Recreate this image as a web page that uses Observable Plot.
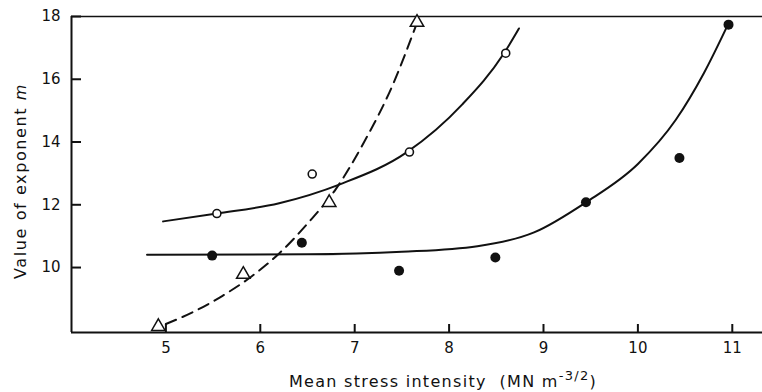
<!DOCTYPE html>
<html>
<head>
<meta charset="utf-8">
<script src="https://cdn.jsdelivr.net/npm/d3@7"></script>
<script src="https://cdn.jsdelivr.net/npm/@observablehq/plot@0.6"></script>
<style>
  html, body { margin: 0; padding: 0; background: #fff; }
</style>
</head>
<body>
<div id="chart"></div>
<script>
// Measured points: open circles, filled circles and triangles
const openX = [5.54, 6.55, 7.58, 8.6];
const openY = [11.72, 12.98, 13.68, 16.83];
const filledX = [5.49, 6.44, 7.47, 8.49, 9.45, 10.44, 10.96];
const filledY = [10.38, 10.79, 9.9, 10.32, 12.08, 13.49, 17.74];
const triX = [4.92, 5.82, 6.73, 7.66];
const triY = [8.12, 9.78, 12.07, 17.81];

// Hand-drawn trend curves through each set
const openCurveX = [4.97, 5.54, 6.2, 6.85, 7.55, 8.14, 8.58, 8.74];
const openCurveY = [11.47, 11.72, 12.05, 12.66, 13.67, 15.2, 16.82, 17.62];
const filledCurveX = [4.8, 6.5, 7.5, 8.3, 8.9, 9.45, 10.0, 10.4, 10.7, 10.96];
const filledCurveY = [10.41, 10.42, 10.5, 10.68, 11.12, 12.08, 13.3, 14.7, 16.2, 17.78];
const triCurveX = [5.0, 5.3, 5.6, 5.9, 6.2, 6.5, 6.8, 7.1, 7.4, 7.66];
const triCurveY = [8.2, 8.6, 9.1, 9.7, 10.45, 11.4, 12.5, 14.0, 15.8, 17.8];

// Axis ticks
const xTicks = [5, 6, 7, 8, 9, 10, 11];
const yTicks = [10, 12, 14, 16, 18];

const xDomain = [4.0, 11.32];
const yDomain = [7.93, 18];

const W = 762, H = 392;
const mL = 71, mR = 0, mT = 16, mB = 60;
const font = "'DejaVu Sans', sans-serif";

const pts = (xs, ys) => xs.map((x, i) => ({x, y: ys[i]}));
const openPts = pts(openX, openY);
const filledPts = pts(filledX, filledY);
const triPts = pts(triX, triY);

const ink = "#111";

const svg = Plot.plot({
  width: W,
  height: H,
  marginLeft: mL,
  marginRight: mR,
  marginTop: mT,
  marginBottom: mB,
  style: {fontFamily: font, fontSize: "15px", color: ink, background: "#fff"},
  x: {domain: xDomain},
  y: {domain: yDomain},
  marks: [
    // negative tick sizes point the ticks into the plot area
    Plot.axisX({ticks: xTicks, tickSize: -8, tickPadding: 18, label: null, fontSize: 15, strokeWidth: 2, stroke: ink}),
    Plot.axisY({ticks: yTicks, tickSize: -10, tickPadding: 21, label: null, fontSize: 15, strokeWidth: 2, stroke: ink}),
    // frame: left, bottom and top lines
    Plot.ruleX([xDomain[0]], {stroke: ink, strokeWidth: 2}),
    Plot.ruleY([yDomain[0]], {stroke: ink, strokeWidth: 2}),
    Plot.ruleY([yDomain[1]], {stroke: ink, strokeWidth: 1.6}),
    // trend curves
    Plot.line(pts(openCurveX, openCurveY), {x: "x", y: "y", curve: "monotone-x", stroke: ink, strokeWidth: 2}),
    Plot.line(pts(filledCurveX, filledCurveY), {x: "x", y: "y", curve: "monotone-x", stroke: ink, strokeWidth: 2}),
    Plot.line(pts(triCurveX, triCurveY), {x: "x", y: "y", curve: "monotone-x", stroke: ink, strokeWidth: 2, strokeDasharray: "11,7"}),
    // markers
    Plot.dot(openPts, {x: "x", y: "y", r: 4, fill: "#fff", stroke: ink, strokeWidth: 1.6}),
    Plot.dot(filledPts, {x: "x", y: "y", r: 5, fill: ink, stroke: "none"}),
    Plot.dot(triPts, {x: "x", y: "y", symbol: "triangle", r: 5, fill: "#fff", stroke: ink, strokeWidth: 1.5})
  ]
});

const s = d3.select(svg);

// Axis titles with italic variable and superscript unit
const yt = s.append("text")
  .attr("transform", `translate(26,${(mT + H - mB) / 2 + 7}) rotate(-90)`)
  .attr("text-anchor", "middle")
  .attr("fill", ink)
  .style("font-family", font)
  .style("font-size", "16px")
  .style("letter-spacing", "1.6px");
yt.append("tspan").text("Value of exponent ");
yt.append("tspan").attr("font-style", "italic").text("m");

const xt = s.append("text")
  .attr("x", 443)
  .attr("y", 387)
  .attr("text-anchor", "middle")
  .attr("fill", ink)
  .style("font-family", font)
  .style("font-size", "16px")
  .style("letter-spacing", "1.3px");
xt.append("tspan").text("Mean stress intensity  (MN m");
xt.append("tspan").attr("dy", "-7").style("font-size", "13px").text("-3/2");
xt.append("tspan").attr("dy", "7").text(")");

document.getElementById("chart").appendChild(svg);
</script>
</body>
</html>
